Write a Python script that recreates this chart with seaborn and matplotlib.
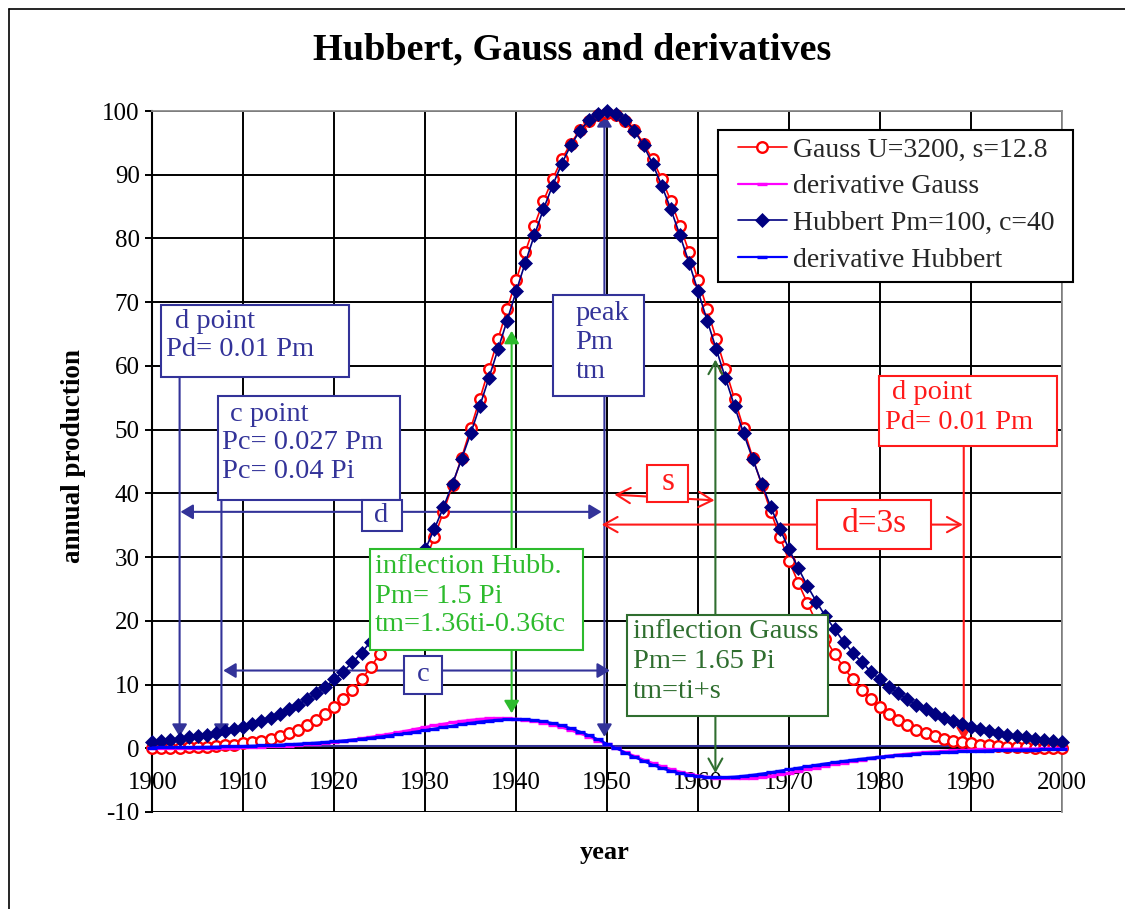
import matplotlib
matplotlib.use("Agg")
import matplotlib.pyplot as plt
from matplotlib.patches import Rectangle
from matplotlib.lines import Line2D
import pandas as pd
import seaborn as sns

# ---------------------------------------------------------------- data
years = list(range(1900, 2001))

gauss = [
    0.05, 0.07, 0.09, 0.12, 0.16, 0.21, 0.27, 0.35, 0.46, 0.59,
    0.75, 0.96, 1.2, 1.5, 1.9, 2.4, 2.9, 3.6, 4.4, 5.3,
    6.4, 7.7, 9.1, 10.8, 12.7, 14.8, 17.2, 19.8, 22.8, 26.0,
    29.4, 33.1, 37.1, 41.3, 45.6, 50.2, 54.8, 59.5, 64.2, 68.9,
    73.5, 77.9, 82.0, 85.9, 89.3, 92.4, 94.9, 97.0, 98.5, 99.4,
    99.7,
    99.4, 98.5, 97.0, 94.9, 92.4, 89.3, 85.9, 82.0, 77.9, 73.5,
    68.9, 64.2, 59.5, 54.8, 50.2, 45.6, 41.3, 37.1, 33.1, 29.4,
    26.0, 22.8, 19.8, 17.2, 14.8, 12.7, 10.8, 9.1, 7.7, 6.4,
    5.3, 4.4, 3.6, 2.9, 2.4, 1.9, 1.5, 1.2, 0.96, 0.75,
    0.59, 0.46, 0.35, 0.27, 0.21, 0.16, 0.12, 0.09, 0.07, 0.05,
]

deriv_gauss = [
    0.01, 0.01, 0.02, 0.03, 0.03, 0.04, 0.06, 0.07, 0.09, 0.12,
    0.15, 0.18, 0.23, 0.28, 0.34, 0.42, 0.51, 0.60, 0.73, 0.86,
    1.00, 1.17, 1.36, 1.56, 1.78, 2.02, 2.26, 2.52, 2.78, 3.06,
    3.33, 3.59, 3.84, 4.08, 4.29, 4.45, 4.60, 4.68, 4.72, 4.70,
    4.63, 4.49, 4.28, 4.00, 3.67, 3.27, 2.82, 2.32, 1.78, 1.20,
    0.61, 0.00, -0.61, -1.20, -1.78, -2.32, -2.82, -3.27, -3.67, -4.00,
    -4.28, -4.49, -4.63, -4.70, -4.72, -4.68, -4.60, -4.45, -4.29, -4.08,
    -3.84, -3.59, -3.33, -3.06, -2.78, -2.52, -2.26, -2.02, -1.78, -1.56,
    -1.36, -1.17, -1.00, -0.86, -0.73, -0.60, -0.51, -0.42, -0.34, -0.28,
    -0.23, -0.18, -0.15, -0.12, -0.09, -0.07, -0.06, -0.04, -0.03, -0.03,
    -0.02,
]

hubbert = [
    1.06, 1.2, 1.3, 1.5, 1.7, 1.9, 2.1, 2.4, 2.7, 3.0,
    3.4, 3.8, 4.3, 4.8, 5.4, 6.1, 6.8, 7.7, 8.6, 9.6,
    10.8, 12.0, 13.5, 15.0, 16.7, 18.7, 20.7, 23.0, 25.5, 28.3,
    31.2, 34.4, 37.8, 41.5, 45.4, 49.4, 53.7, 58.1, 62.6, 67.1,
    71.7, 76.2, 80.5, 84.6, 88.3, 91.7, 94.6, 96.9, 98.6, 99.6,
    100.0,
    99.6, 98.6, 96.9, 94.6, 91.7, 88.3, 84.6, 80.5, 76.2, 71.7,
    67.1, 62.6, 58.1, 53.7, 49.4, 45.4, 41.5, 37.8, 34.4, 31.2,
    28.3, 25.5, 23.0, 20.7, 18.7, 16.7, 15.0, 13.5, 12.0, 10.8,
    9.6, 8.6, 7.7, 6.8, 6.1, 5.4, 4.8, 4.3, 3.8, 3.4,
    3.0, 2.7, 2.4, 2.1, 1.9, 1.7, 1.5, 1.3, 1.2, 1.06,
]

deriv_hubbert = [
    0.12, 0.13, 0.14, 0.15, 0.18, 0.20, 0.22, 0.25, 0.28, 0.32,
    0.35, 0.40, 0.44, 0.50, 0.56, 0.62, 0.70, 0.78, 0.88, 0.98,
    1.08, 1.21, 1.33, 1.49, 1.64, 1.81, 2.00, 2.19, 2.39, 2.61,
    2.84, 3.07, 3.30, 3.53, 3.77, 3.98, 4.17, 4.33, 4.46, 4.54,
    4.56, 4.52, 4.41, 4.22, 3.94, 3.58, 3.13, 2.61, 2.02, 1.38,
    0.70, 0.00, -0.70, -1.38, -2.02, -2.61, -3.13, -3.58, -3.94, -4.22,
    -4.41, -4.52, -4.56, -4.54, -4.46, -4.33, -4.17, -3.98, -3.77, -3.53,
    -3.30, -3.07, -2.84, -2.61, -2.39, -2.19, -2.00, -1.81, -1.64, -1.49,
    -1.33, -1.21, -1.08, -0.98, -0.88, -0.78, -0.70, -0.62, -0.56, -0.50,
    -0.44, -0.40, -0.35, -0.32, -0.28, -0.25, -0.22, -0.20, -0.18, -0.15,
    -0.14,
]

series_labels = ["Gauss U=3200, s=12.8", "derivative Gauss",
                 "Hubbert Pm=100, c=40", "derivative Hubbert"]
x_ticks = list(range(1900, 2001, 10))
y_ticks = list(range(-10, 101, 10))

df = pd.DataFrame({"year": years, "gauss": gauss, "deriv_gauss": deriv_gauss,
                   "hubbert": hubbert, "deriv_hubbert": deriv_hubbert})

# ---------------------------------------------------------------- style
sns.set_theme(style="white")
SERIF = ["Liberation Serif", "DejaVu Serif"]
plt.rcParams["font.family"] = SERIF
plt.rcParams["axes.unicode_minus"] = False

NAVY = "#333399"
RED = "#ff1a1a"
LGREEN = "#2dbb2d"
DGREEN = "#2f6e2f"
BOX_FS = 20.5

fig = plt.figure(figsize=(11.25, 9.09), dpi=100)
W, H = 1125, 909
ax = fig.add_axes([152.3 / W, 1 - 812 / H, (1062 - 152.3) / W, (812 - 111) / H])

# ---------------------------------------------------------------- curves
sns.lineplot(data=df, x="year", y="gauss", ax=ax, color="#ff0000", lw=1.2,
             marker="o", markersize=7.6, markerfacecolor="white",
             markeredgecolor="#ff0000", markeredgewidth=1.7,
             label=series_labels[0], zorder=3, clip_on=False)
sns.lineplot(data=df, x="year", y="deriv_gauss", ax=ax, color="#ff00ff", lw=1.6,
             marker="_", markersize=6.5, markeredgewidth=2.4,
             markeredgecolor="#ff00ff", label=series_labels[1], zorder=3,
             clip_on=False)
sns.lineplot(data=df, x="year", y="hubbert", ax=ax, color="#000080", lw=1.2,
             marker="D", markersize=7.2, markerfacecolor="#000080",
             markeredgecolor="#000080", markeredgewidth=0.5,
             label=series_labels[2], zorder=3.2, clip_on=False)
sns.lineplot(data=df, x="year", y="deriv_hubbert", ax=ax, color="#0000ff", lw=1.6,
             marker="_", markersize=6.5, markeredgewidth=2.4,
             markeredgecolor="#0000ff", label=series_labels[3], zorder=3.2,
             clip_on=False)

# ---------------------------------------------------------------- axes
ax.set_xlim(1900, 2000)
ax.set_ylim(-10, 100)
ax.set_xticks(x_ticks)
ax.set_yticks(y_ticks)
ax.set_xlabel("")
ax.set_ylabel("")
ax.grid(True, color="black", lw=1.4)
ax.set_axisbelow(True)
ax.spines["bottom"].set_position(("data", 0))
ax.spines["bottom"].set_color("black")
ax.spines["bottom"].set_linewidth(1.4)
ax.spines["left"].set_color("black")
ax.spines["left"].set_linewidth(1.5)
for side in ("top", "right"):
    ax.spines[side].set_color("#8c8c8c")
    ax.spines[side].set_linewidth(1.3)
ax.tick_params(axis="x", bottom=False, length=0, pad=17, labelsize=18,
               labelcolor="black")
ax.tick_params(axis="y", left=True, direction="out", length=5, width=1.4,
               pad=4, labelsize=18, labelcolor="black", color="black")

# horizontal reference line just above zero
ax.axhline(0.3, color=NAVY, lw=1.5, zorder=2.5)


# ---------------------------------------------------------------- annotations
def box(x0, x1, y0, y1, color, zorder=6):
    ax.add_patch(Rectangle((x0, y0), x1 - x0, y1 - y0, facecolor="white",
                           edgecolor=color, lw=1.5, zorder=zorder))


def lines_text(entries, color, size=BOX_FS):
    for x, y, s in entries:
        ax.text(x, y, s, color=color, fontsize=size, ha="left", va="center",
                zorder=7)


def arrow(p0, p1, color, style, scale=10, lw=1.5, zorder=2.6):
    ax.annotate("", xy=p1, xytext=p0, zorder=zorder,
                arrowprops=dict(arrowstyle=style, color=color, lw=lw,
                                shrinkA=0, shrinkB=0, mutation_scale=scale))


filled = "-|>,head_length=0.75,head_width=0.45"
filled2 = "<|-|>,head_length=0.75,head_width=0.45"
openhead = "<->,head_length=0.9,head_width=0.5"

# blue d / c point construction
arrow((1903.0, 58.3), (1903.0, 1.8), NAVY, filled)
arrow((1907.6, 39.0), (1907.6, 1.8), NAVY, filled)
arrow((1949.7, 1.8), (1949.7, 99.5), NAVY, filled2)
arrow((1903.1, 37.1), (1949.4, 37.1), NAVY, filled2)
arrow((1907.8, 12.2), (1950.3, 12.2), NAVY, filled2)

box(1900.95, 1921.6, 58.3, 69.6, NAVY)
lines_text([(1902.5, 66.95, "d point"), (1901.5, 62.55, "Pd= 0.01 Pm")], NAVY)

box(1907.2, 1927.2, 39.0, 55.2, NAVY)
lines_text([(1908.5, 52.35, "c point"), (1907.7, 47.95, "Pc= 0.027 Pm"),
            (1907.7, 43.4, "Pc= 0.04 Pi")], NAVY)

box(1923.0, 1927.4, 34.1, 39.0, NAVY)
ax.text(1925.2, 36.55, "d", color=NAVY, fontsize=20.5, ha="center",
        va="center", zorder=7)

box(1927.7, 1931.8, 8.5, 14.5, NAVY)
ax.text(1929.75, 11.5, "c", color=NAVY, fontsize=20.5, ha="center",
        va="center", zorder=7)

box(1944.0, 1954.1, 55.2, 71.2, NAVY)
lines_text([(1946.5, 68.3, "peak"), (1946.5, 63.6, "Pm"),
            (1946.5, 59.2, "tm")], NAVY)

# inflection points
arrow((1939.5, 5.5), (1939.5, 65.5), LGREEN, filled2, zorder=3.5)
box(1923.9, 1947.4, 15.4, 31.2, LGREEN)
lines_text([(1924.5, 28.5, "inflection Hubb."), (1924.5, 23.8, "Pm= 1.5 Pi"),
            (1924.5, 19.4, "tm=1.36ti-0.36tc")], LGREEN)

arrow((1961.9, -3.9), (1961.9, 61.0), DGREEN, openhead, zorder=3.5)
box(1952.2, 1974.3, 5.0, 20.9, DGREEN)
lines_text([(1952.8, 18.3, "inflection Gauss"), (1952.8, 13.6, "Pm= 1.65 Pi"),
            (1952.8, 8.9, "tm=ti+s")], DGREEN)

# red s and d=3s spans
arrow((1950.8, 39.8), (1961.8, 38.9), RED, openhead, scale=11)
box(1954.4, 1958.9, 38.7, 44.5, RED)
ax.text(1956.65, 41.8, "s", color=RED, fontsize=24, ha="center",
        va="center", zorder=7)

arrow((1949.4, 35.1), (1989.1, 35.1), RED, openhead, scale=11)
box(1973.1, 1985.6, 31.3, 38.9, RED)
ax.text(1979.35, 35.2, "d=3s", color=RED, fontsize=24, ha="center",
        va="center", zorder=7)

arrow((1989.2, 47.5), (1989.2, 1.3), RED, filled)
box(1979.9, 1999.4, 47.5, 58.4, RED)
lines_text([(1981.3, 55.8, "d point"), (1980.5, 51.1, "Pd= 0.01 Pm")], RED)

# ---------------------------------------------------------------- legend
# legend frame drawn separately so the inner margins can differ per side
ax.add_patch(Rectangle((718 / W, 1 - 282 / H), (1073 - 718) / W, 152 / H,
                       transform=fig.transFigure, facecolor="white",
                       edgecolor="black", lw=1.5, zorder=9, clip_on=False))
leg = ax.legend(loc="upper left", bbox_to_anchor=(0.6438, 0.9629),
                frameon=False, fontsize=20, handlelength=1.75,
                handletextpad=0.22, labelspacing=0.41, borderpad=0,
                borderaxespad=0)
leg.set_zorder(10)

# ---------------------------------------------------------------- titles
fig.text(572 / W, 1 - 50 / H, "Hubbert, Gauss and derivatives", fontsize=27.5,
         fontweight="bold", ha="center", va="center", color="black")
fig.text(73 / W, 1 - 456 / H, "annual production", fontsize=19.5,
         fontweight="bold", rotation=90, ha="center", va="center",
         color="black")
fig.text(605 / W, 1 - 853 / H, "year", fontsize=19, fontweight="bold",
         ha="center", va="center", color="black")

# chart frame
fig.add_artist(Line2D([8.5 / W, 1], [1 - 8.5 / H] * 2, color="black", lw=1.2,
                      transform=fig.transFigure))
fig.add_artist(Line2D([8.5 / W] * 2, [0, 1 - 8.5 / H], color="black", lw=1.2,
                      transform=fig.transFigure))

fig.savefig("out.png", dpi=100)
